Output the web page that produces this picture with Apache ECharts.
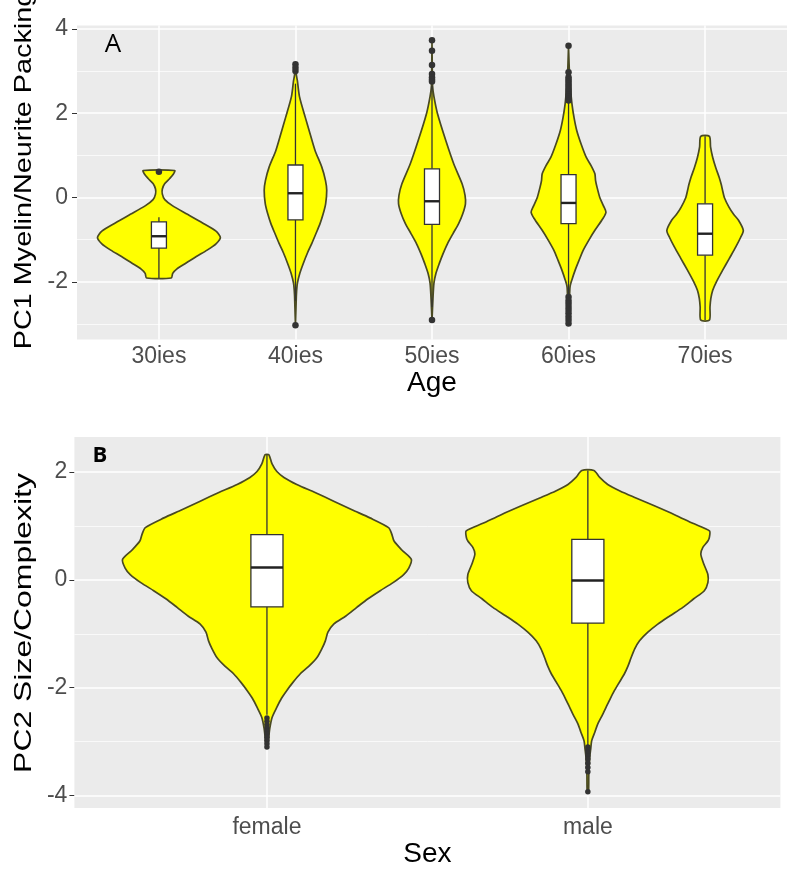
<!DOCTYPE html>
<html>
<head>
<meta charset="utf-8">
<script src="https://cdn.jsdelivr.net/npm/echarts@6/dist/echarts.min.js"></script>
<style>html,body{margin:0;padding:0;background:#fff;}#chart{width:787px;height:872px;}</style>
</head>
<body>
<div id="chart"></div>
<script>
// ---------- Panel A: PC1 by Age ----------
const ageCategories = ['30ies', '40ies', '50ies', '60ies', '70ies'];
const ageTicksY = [-2, 0, 2, 4];
const ageMinorY = [-3, -1, 1, 3];
// violin half-widths (category units) at PC1 values: [value, halfWidth]
const violin30ies = [[0.64,0.115],[0.55,0.105],[0.45,0.079],[0.33,0.043],[0.2,0.025],[0.08,0.025],[-0.05,0.043],[-0.2,0.101],[-0.4,0.209],[-0.6,0.317],[-0.8,0.418],[-0.95,0.45],[-1.1,0.418],[-1.25,0.353],[-1.4,0.274],[-1.55,0.202],[-1.7,0.13],[-1.8,0.101],[-1.91,0.09]];
const violin40ies = [[3.16,0],[2.9,0.007],[2.77,0.014],[2.4,0.029],[1.9,0.072],[1.5,0.108],[1.11,0.144],[0.72,0.193],[0.4,0.22],[0.17,0.229],[-0.15,0.221],[-0.4,0.202],[-0.62,0.18],[-0.85,0.151],[-1.09,0.12],[-1.3,0.09],[-1.56,0.058],[-1.8,0.032],[-2.04,0.014],[-2.3,0.007],[-2.6,0.004],[-3.03,0]];
const violin50ies = [[3.73,0],[3.0,0.002],[2.65,0.004],[2.4,0.014],[1.98,0.041],[1.35,0.101],[0.8,0.159],[0.32,0.221],[0.05,0.242],[-0.15,0.245],[-0.4,0.224],[-0.62,0.195],[-0.85,0.155],[-1.1,0.113],[-1.35,0.079],[-1.57,0.053],[-1.8,0.029],[-2.04,0.014],[-2.4,0.007],[-2.91,0]];
const violin60ies = [[3.6,0],[3.0,0.006],[2.6,0.014],[2.22,0.025],[1.9,0.04],[1.59,0.06],[1.25,0.094],[0.95,0.13],[0.75,0.166],[0.56,0.193],[0.4,0.198],[0.24,0.209],[0.0,0.229],[-0.2,0.256],[-0.35,0.274],[-0.5,0.252],[-0.78,0.193],[-1.0,0.151],[-1.25,0.108],[-1.5,0.076],[-1.73,0.048],[-1.95,0.025],[-2.12,0.011],[-2.4,0.007],[-3.0,0]];
const violin70ies = [[1.45,0.032],[1.2,0.04],[0.95,0.056],[0.7,0.079],[0.48,0.103],[0.3,0.119],[0.17,0.128],[0.0,0.141],[-0.23,0.175],[-0.4,0.209],[-0.54,0.245],[-0.78,0.28],[-0.95,0.26],[-1.18,0.224],[-1.45,0.177],[-1.73,0.128],[-2.0,0.083],[-2.2,0.056],[-2.4,0.042],[-2.6,0.036],[-2.91,0.032]];
// box stats: [lowerWhisker, Q1, median, Q3, upperWhisker]
const ageBoxes = [[-1.91,-1.2,-0.92,-0.58,-0.47],[-2.45,-0.53,0.1,0.77,2.7],[-2.6,-0.64,-0.09,0.68,2.65],[-2.3,-0.62,-0.13,0.54,2.25],[-2.91,-1.37,-0.86,-0.15,1.45]];
const ageOutliers = [[0.61],[3.16,3.08,3.0,-3.03],[3.73,3.48,3.14,2.93,2.85,2.8,2.75,-2.91],[3.6,2.97,2.85,2.8,2.75,2.7,2.65,2.6,2.55,2.5,2.45,2.4,2.35,2.3,-2.36,-2.45,-2.52,-2.6,-2.67,-2.75,-2.83,-2.91,-2.99],[]];

// ---------- Panel B: PC2 by Sex ----------
const sexCategories = ['female', 'male'];
const sexTicksY = [-4, -2, 0, 2];
const sexMinorY = [-3, -1, 1];
const violinFemale = [[2.32,0.006],[2.15,0.016],[2.01,0.031],[1.9,0.053],[1.77,0.093],[1.62,0.15],[1.46,0.208],[1.3,0.265],[1.15,0.321],[0.97,0.379],[0.85,0.389],[0.72,0.396],[0.55,0.421],[0.38,0.45],[0.22,0.442],[0.1,0.426],[-0.05,0.393],[-0.2,0.353],[-0.35,0.315],[-0.51,0.28],[-0.67,0.246],[-0.82,0.208],[-0.97,0.19],[-1.13,0.182],[-1.28,0.171],[-1.44,0.156],[-1.6,0.131],[-1.74,0.104],[-1.9,0.081],[-2.05,0.062],[-2.2,0.045],[-2.36,0.031],[-2.55,0.016],[-2.75,0.009],[-2.95,0.005],[-3.1,0.002]];
const violinMale = [[2.03,0.019],[1.9,0.037],[1.77,0.062],[1.65,0.1],[1.52,0.15],[1.37,0.209],[1.21,0.27],[1.05,0.327],[0.91,0.379],[0.8,0.379],[0.72,0.374],[0.6,0.358],[0.48,0.352],[0.3,0.361],[0.1,0.374],[-0.05,0.374],[-0.2,0.363],[-0.35,0.33],[-0.51,0.296],[-0.67,0.255],[-0.82,0.218],[-0.97,0.187],[-1.13,0.161],[-1.28,0.146],[-1.44,0.135],[-1.6,0.125],[-1.74,0.114],[-1.9,0.098],[-2.05,0.083],[-2.2,0.07],[-2.36,0.057],[-2.52,0.044],[-2.67,0.031],[-2.82,0.022],[-2.98,0.012],[-3.13,0.009],[-3.28,0.006],[-3.6,0.003],[-3.93,0.002]];
const sexBoxes = [[-2.5,-0.5,0.23,0.84,2.32],[-3.07,-0.8,-0.01,0.75,2.03]];
const sexOutliers = [[-2.56,-2.62,-2.68,-2.74,-2.8,-2.86,-2.92,-2.98,-3.04,-3.1],[-3.1,-3.15,-3.2,-3.26,-3.32,-3.4,-3.48,-3.56,-3.93]];

const ageViolins = [violin30ies, violin40ies, violin50ies, violin60ies, violin70ies];
const sexViolins = [violinFemale, violinMale];

const TICK_COLOR = '#4d4d4d';
const FONT = '"Liberation Sans", Arial, sans-serif';

function violinRender(profiles, boxes, boxW) {
  return function (params, api) {
    const i = params.dataIndex;
    const cx = api.value(0);
    const prof = profiles[i];
    const right = prof.map(p => api.coord([cx + p[1], p[0]]));
    const left = prof.slice().reverse().map(p => api.coord([cx - p[1], p[0]]));
    const pts = right.concat(left);
    const b = boxes[i];
    const tl = api.coord([cx - boxW / 2, b[3]]);
    const br = api.coord([cx + boxW / 2, b[1]]);
    const hi = api.coord([cx, b[4]]);
    const q3 = api.coord([cx, b[3]]);
    const q1 = api.coord([cx, b[1]]);
    const lo = api.coord([cx, b[0]]);
    const mL = api.coord([cx - boxW / 2, b[2]]);
    const mR = api.coord([cx + boxW / 2, b[2]]);
    const ls = { stroke: '#333333', lineWidth: 1.3 };
    return {
      type: 'group',
      children: [
        { type: 'polygon', shape: { points: pts, smooth: 0.25 }, style: { fill: '#ffff00', stroke: '#4a4a22', lineWidth: 1.7 } },
        { type: 'line', shape: { x1: hi[0], y1: hi[1], x2: q3[0], y2: q3[1] }, style: ls },
        { type: 'line', shape: { x1: q1[0], y1: q1[1], x2: lo[0], y2: lo[1] }, style: ls },
        { type: 'rect', shape: { x: tl[0], y: tl[1], width: br[0] - tl[0], height: br[1] - tl[1] }, style: { fill: '#ffffff', stroke: '#333333', lineWidth: 1.3 } },
        { type: 'line', shape: { x1: mL[0], y1: mL[1], x2: mR[0], y2: mR[1] }, style: { stroke: '#222222', lineWidth: 2.4 } }
      ]
    };
  };
}

function outlierData(lists) {
  const out = [];
  lists.forEach((arr, i) => arr.forEach(v => out.push([i + 1, v])));
  return out;
}

function gridLines(cats, major, minor) {
  const d = [];
  cats.forEach((c, i) => d.push({ xAxis: i + 1, lineStyle: { color: '#ffffff', width: 1.5, type: 'solid' } }));
  major.forEach(v => d.push({ yAxis: v, lineStyle: { color: '#ffffff', width: 1.5, type: 'solid' } }));
  minor.forEach(v => d.push({ yAxis: v, lineStyle: { color: '#ffffff', width: 0.7, type: 'solid' } }));
  return d;
}

function xAxisFor(gridIndex, cats, name, nameGap, margin) {
  const vals = cats.map((c, i) => i + 1);
  return {
    type: 'value', gridIndex: gridIndex, min: 0.4, max: cats.length + 0.6,
    splitLine: { show: false }, axisLine: { show: false },
    axisTick: { show: true, customValues: vals, length: 5, lineStyle: { color: '#333333', width: 1 } },
    axisLabel: { customValues: vals, formatter: v => cats[Math.round(v) - 1], color: TICK_COLOR, fontSize: 23, fontFamily: FONT, margin: margin },
    name: name, nameLocation: 'middle', nameGap: nameGap,
    nameTextStyle: { color: '#000000', fontSize: 28, fontFamily: FONT }
  };
}

function yAxisFor(gridIndex, min, max, ticks, margin) {
  return {
    type: 'value', gridIndex: gridIndex, min: min, max: max,
    splitLine: { show: false }, axisLine: { show: false },
    axisTick: { show: true, customValues: ticks, length: 5, lineStyle: { color: '#333333', width: 1 } },
    axisLabel: { customValues: ticks, color: TICK_COLOR, fontSize: 23, fontFamily: FONT, margin: margin }
  };
}

const chart = echarts.init(document.getElementById('chart'), null, { renderer: 'canvas' });
chart.setOption({
  animation: false,
  backgroundColor: '#ffffff',
  grid: [
    { left: 77, top: 25.5, width: 721, height: 314, show: true, backgroundColor: '#ebebeb', borderWidth: 0 },
    { left: 74.4, top: 437, width: 706, height: 371, show: true, backgroundColor: '#ebebeb', borderWidth: 0 }
  ],
  xAxis: [
    xAxisFor(0, ageCategories, 'Age', 29, 6),
    xAxisFor(1, sexCategories, 'Sex', 30, 8)
  ],
  yAxis: [
    yAxisFor(0, -3.37, 4.08, ageTicksY, 9),
    yAxisFor(1, -4.23, 2.65, sexTicksY, 7)
  ],
  graphic: [
    { type: 'text', x: 24, y: 170, rotation: Math.PI / 2, scaleX: 1.2, scaleY: 1,
      style: { text: 'PC1 Myelin/Neurite Packing', fill: '#000000', fontSize: 24, fontFamily: FONT, align: 'center', verticalAlign: 'middle', textAlign: 'center', textVerticalAlign: 'middle' } },
    { type: 'text', x: 24, y: 623, rotation: Math.PI / 2, scaleX: 1.33, scaleY: 1,
      style: { text: 'PC2 Size/Complexity', fill: '#000000', fontSize: 24, fontFamily: FONT, align: 'center', verticalAlign: 'middle', textAlign: 'center', textVerticalAlign: 'middle' } },
    { type: 'text', x: 113, y: 45, z: 10,
      style: { text: 'A', fill: '#000000', fontSize: 26, fontFamily: '"Open Sans", sans-serif', align: 'center', verticalAlign: 'middle', textAlign: 'center', textVerticalAlign: 'middle' } },
    { type: 'text', x: 100, y: 456, z: 10,
      style: { text: 'B', fill: '#000000', fontSize: 22, fontWeight: 'bold', fontFamily: '"Open Sans", sans-serif', align: 'center', verticalAlign: 'middle', textAlign: 'center', textVerticalAlign: 'middle' } }
  ],
  series: [
    { type: 'line', xAxisIndex: 0, yAxisIndex: 0, data: [[1, 0]], symbol: 'none', lineStyle: { opacity: 0 }, z: 1, silent: true,
      markLine: { silent: true, symbol: 'none', z: 1, label: { show: false }, animation: false, data: gridLines(ageCategories, ageTicksY, ageMinorY) } },
    { type: 'line', xAxisIndex: 1, yAxisIndex: 1, data: [[1, 0]], symbol: 'none', lineStyle: { opacity: 0 }, z: 1, silent: true,
      markLine: { silent: true, symbol: 'none', z: 1, label: { show: false }, animation: false, data: gridLines(sexCategories, sexTicksY, sexMinorY) } },
    { type: 'custom', xAxisIndex: 0, yAxisIndex: 0, z: 2, silent: true,
      data: ageCategories.map((c, i) => [i + 1, 0]), encode: { x: 0, y: 1 },
      renderItem: violinRender(ageViolins, ageBoxes, 0.11) },
    { type: 'custom', xAxisIndex: 1, yAxisIndex: 1, z: 2, silent: true,
      data: sexCategories.map((c, i) => [i + 1, 0]), encode: { x: 0, y: 1 },
      renderItem: violinRender(sexViolins, sexBoxes, 0.1) },
    { type: 'scatter', xAxisIndex: 0, yAxisIndex: 0, z: 3, silent: true, symbol: 'circle', symbolSize: 6.5,
      itemStyle: { color: '#333333', opacity: 1 }, data: outlierData(ageOutliers) },
    { type: 'scatter', xAxisIndex: 1, yAxisIndex: 1, z: 3, silent: true, symbol: 'circle', symbolSize: 5.5,
      itemStyle: { color: '#333333', opacity: 1 }, data: outlierData(sexOutliers) }
  ]
});
</script>
</body>
</html>
